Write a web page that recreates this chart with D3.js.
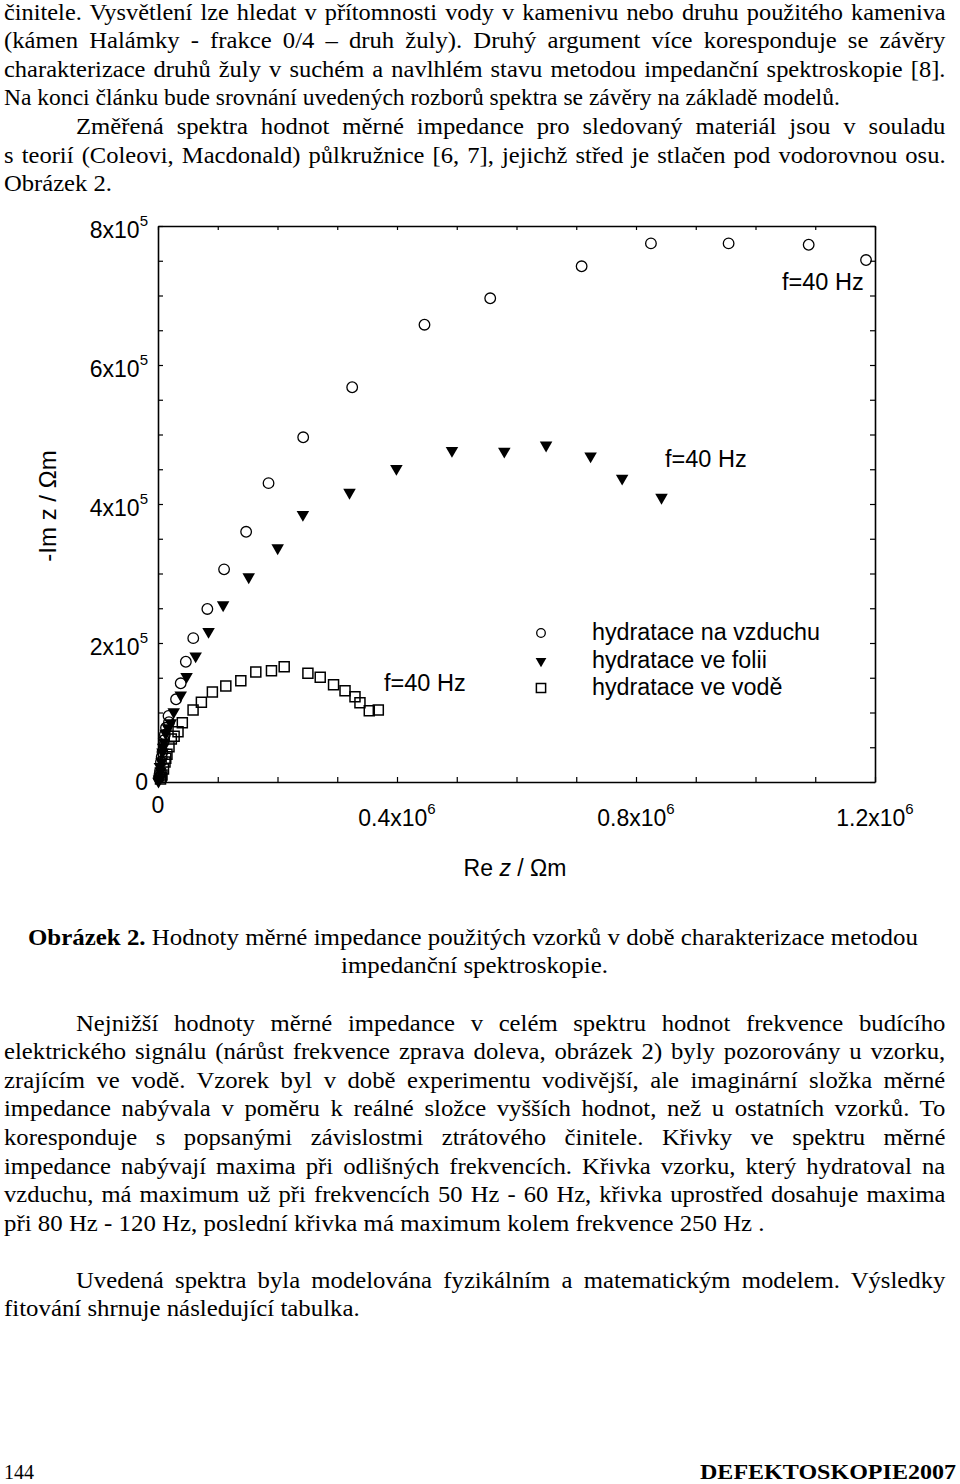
<!DOCTYPE html>
<html><head><meta charset="utf-8">
<script src="https://cdn.jsdelivr.net/npm/d3@7"></script>
<style>body{margin:0;background:#fff}svg{display:block}</style>
</head><body>
<svg id="page" width="960" height="1484"></svg>
<script>
// ---------- data (values in kΩm) ----------
const seriesNames = ["hydratace na vzduchu", "hydratace ve folii", "hydratace ve vodě"];
const airRe  = [1185,1089,955,825,709,556,446,325,243,185,147.5,110.6,82.6,59,46.6,38,30.2,18.4,17.6,13.4,10,7.5,5,3.4,1.7,11.5,6.2,2.5];
const airIm  = [751,773,775,775,742,696,658,568,496,430,360,306,249,207,173,142,119,86,95,78,60,43,29,16,6,68,36,11];
const foilRe = [842.7,776.8,724,649.5,579.6,492,399,320.5,242.5,200.3,151.8,109,84.6,63,47.8,38,26.3,21.3,12.9,10,7.5,5.9,4.2,1.7,16.5,8.6,3.2,0.8];
const foilIm = [409.5,437,469,484.6,475.7,476.8,451,416.7,384.7,336.8,295,254.7,216.5,181.3,151.8,125,101,85,70,57.5,43,28.8,15.8,4.3,78,50,22,1];
const waterRe = [368.7,353.6,338,329.7,313,293.8,271.5,250.9,211.2,189.9,163.7,138.6,113.5,91,72.6,58.7,40.7,33.5,22.3,18.4,15,11.7,9.2,6.7,4.2,27,13,5.3];
const waterIm = [103.6,102.6,114,122.7,131.4,140,150.6,156.4,165.9,160.1,158.3,145.8,138.1,129.5,114.7,103.6,85.3,72.4,61.9,50.8,40,28.8,18.7,10,4.3,66,34,7];
const xTickValues = [0, 0.4e6, 0.8e6, 1.2e6];
const xTickBase = ["0", "0.4x10", "0.8x10", "1.2x10"];
const xTickExp  = ["", "6", "6", "6"];
const yTickValues = [0, 2e5, 4e5, 6e5, 8e5];
const yTickBase = ["0", "2x10", "4x10", "6x10", "8x10"];
const yTickExp  = ["", "5", "5", "5", "5"];
const freqLabels = ["f=40 Hz", "f=40 Hz", "f=40 Hz"];

// ---------- page text: [text, indented, justified, width of unjustified line] ----------
const topLines = [
 ["činitele. Vysvětlení lze hledat v přítomnosti vody v kamenivu nebo druhu použitého kameniva", 0, true],
 ["(kámen Halámky - frakce 0/4 – druh žuly). Druhý argument více koresponduje se závěry", 0, true],
 ["charakterizace druhů žuly v suchém a navlhlém stavu metodou impedanční spektroskopie [8].", 0, true],
 ["Na konci článku bude srovnání uvedených rozborů spektra se závěry na základě modelů.", 0, false, 836],
 ["Změřená spektra hodnot měrné impedance pro sledovaný materiál jsou v souladu", 1, true],
 ["s teorií (Coleovi, Macdonald) půlkružnice [6, 7], jejichž střed je stlačen pod vodorovnou osu.", 0, true],
 ["Obrázek 2.", 0, false, 108]
];
const para2 = [
 ["Nejnižší hodnoty měrné impedance v celém spektru hodnot frekvence budícího", 1, true],
 ["elektrického signálu (nárůst frekvence zprava doleva, obrázek 2) byly pozorovány u vzorku,", 0, true],
 ["zrajícím ve vodě. Vzorek byl v době experimentu vodivější, ale imaginární složka měrné", 0, true],
 ["impedance nabývala v poměru k reálné složce vyšších hodnot, než u ostatních vzorků. To", 0, true],
 ["koresponduje s popsanými závislostmi ztrátového činitele. Křivky ve spektru měrné", 0, true],
 ["impedance nabývají maxima při odlišných frekvencích. Křivka vzorku, který hydratoval na", 0, true],
 ["vzduchu, má maximum už při frekvencích 50 Hz - 60 Hz, křivka uprostřed dosahuje maxima", 0, true],
 ["při 80 Hz - 120 Hz, poslední křivka má maximum kolem frekvence 250 Hz .", 0, false, 761]
];
const para3 = [
 ["Uvedená spektra byla modelována fyzikálním a matematickým modelem. Výsledky", 1, true],
 ["fitování shrnuje následující tabulka.", 0, false, 356]
];

const svg = d3.select("#page");
const serif = "'Liberation Serif','Times New Roman',serif";
const sans = "'Liberation Sans',Arial,sans-serif";
const FS = 23, LH = 28.6, LEFT = 4, RIGHT = 946, INDENT = 72, SX = 1.075;

function block(lines, y0) {
  lines.forEach((l, i) => {
    const x = LEFT + (l[1] ? INDENT : 0);
    const yy = y0 + i * LH;
    const t = svg.append("text").attr("x", 0).attr("y", 0)
      .attr("font-family", serif).attr("font-size", FS).attr("fill", "#000").text(l[0]);
    const w = t.node().getComputedTextLength();
    if (l[2]) {
      const target = RIGHT - x;
      const n = (l[0].match(/ /g) || []).length;
      let s = SX;
      if (w * s > target - n * 2) s = (target - n * 2) / w;
      t.attr("transform", `translate(${x},${yy}) scale(${s},1)`);
      if (n) t.attr("word-spacing", (target / s - w) / n);
    } else {
      const s = l[3] / w;
      t.attr("transform", `translate(${x},${yy}) scale(${s},1)`);
    }
  });
}
block(topLines, 19.5);
block(para2, 1030.5);
block(para3, 1287.5);

// caption (centered)
function centered(cx, yy, parts, target) {
  const t = svg.append("text").attr("x", 0).attr("y", 0).attr("font-family", serif).attr("font-size", FS);
  parts.forEach(p => t.append("tspan").attr("font-weight", p[1] ? "bold" : null).text(p[0]));
  const w = t.node().getComputedTextLength();
  const s = target / w;
  t.attr("transform", `translate(${cx - target / 2},${yy}) scale(${s},1)`);
}
centered(473, 944.5, [["Obrázek 2.", true], [" Hodnoty měrné impedance použitých vzorků v době charakterizace metodou", false]], 890);
centered(474.5, 973, [["impedanční spektroskopie.", false]], 267);

// footer
svg.append("text").attr("x", 4).attr("y", 1479).attr("font-family", serif).attr("font-size", 21)
  .attr("textLength", 30).attr("lengthAdjust", "spacingAndGlyphs").text("144");
svg.append("text").attr("x", 700).attr("y", 1479).attr("font-weight", "bold")
  .attr("font-family", serif).attr("font-size", 21).attr("textLength", 256)
  .attr("lengthAdjust", "spacingAndGlyphs").text("DEFEKTOSKOPIE2007");

// ---------- chart ----------
const x = d3.scaleLinear().domain([0, 1.2e6]).range([158, 875]);
const y = d3.scaleLinear().domain([0, 8e5]).range([782, 226]);
const xMinor = d3.range(0, 1.2e6 + 1, 1e5);
const yMinor = d3.range(0, 8e5 + 1, 5e4);

const ax = svg.append("g").attr("class", "axes");
function styleAxis(g) {
  g.selectAll("path.domain").attr("stroke", "#000").attr("stroke-width", 1.6);
  g.selectAll(".tick line").attr("stroke", "#000").attr("stroke-width", 1.2);
  g.selectAll(".tick text").remove();
}
ax.append("g").attr("transform", `translate(0,${y(0)})`)
  .call(d3.axisBottom(x).tickValues(xMinor).tickSize(-5).tickSizeOuter(0).tickFormat("")).call(styleAxis);
ax.append("g").attr("transform", `translate(0,${y(8e5)})`)
  .call(d3.axisTop(x).tickValues(xMinor).tickSize(-4).tickSizeOuter(0).tickFormat("")).call(styleAxis);
ax.append("g").attr("transform", `translate(${x(0)},0)`)
  .call(d3.axisLeft(y).tickValues(yMinor).tickSize(-5).tickSizeOuter(0).tickFormat("")).call(styleAxis);
ax.append("g").attr("transform", `translate(${x(1.2e6)},0)`)
  .call(d3.axisRight(y).tickValues(yMinor).tickSize(-5).tickSizeOuter(0).tickFormat("")).call(styleAxis);

// tick labels
xTickValues.forEach((v, i) => {
  const t = ax.append("text").attr("x", x(v)).attr("y", v === 0 ? 813 : 826)
    .attr("text-anchor", "middle").attr("font-family", sans).attr("font-size", 23).text(xTickBase[i]);
  if (xTickExp[i]) t.append("tspan").attr("dy", -12).attr("font-size", 15).text(xTickExp[i]);
});
yTickValues.forEach((v, i) => {
  const t = ax.append("text").attr("x", 148).attr("y", y(v) + (v === 0 ? 8 : 12))
    .attr("text-anchor", "end").attr("font-family", sans).attr("font-size", 23).text(yTickBase[i]);
  if (yTickExp[i]) t.append("tspan").attr("dy", -12).attr("font-size", 15).text(yTickExp[i]);
});

// axis titles
svg.append("text").attr("transform", "translate(56,506) rotate(-90)").attr("text-anchor", "middle")
  .attr("font-family", sans).attr("font-size", 24).text("-Im z / Ωm");
const xt = svg.append("text").attr("x", 515).attr("y", 876).attr("text-anchor", "middle")
  .attr("font-family", sans).attr("font-size", 23);
xt.append("tspan").text("Re ");
xt.append("tspan").attr("font-style", "italic").text("z");
xt.append("tspan").text(" / Ωm");

// series
const toPts = (re, im) => re.map((r, i) => ({ re: r * 1000, im: im[i] * 1000 }));
const series = [
  { pts: toPts(airRe, airIm), type: "circle" },
  { pts: toPts(foilRe, foilIm), type: "triangle" },
  { pts: toPts(waterRe, waterIm), type: "square" }
];
function drawMarker(g, type, cx, cy, small) {
  if (type === "circle") {
    g.append("path").attr("d", d3.symbol(d3.symbolCircle, Math.PI * (small ? 18.5 : 28))())
      .attr("transform", `translate(${cx},${cy})`).attr("fill", "none")
      .attr("stroke", "#000").attr("stroke-width", 1.3);
  } else if (type === "triangle") {
    g.append("path").attr("d", d3.symbol(d3.symbolTriangle, small ? 50 : 68)())
      .attr("transform", `translate(${cx},${cy}) rotate(180)`).attr("fill", "#000");
  } else {
    g.append("path").attr("d", d3.symbol(d3.symbolSquare, small ? 85 : 100)())
      .attr("transform", `translate(${cx},${cy})`).attr("fill", "none")
      .attr("stroke", "#000").attr("stroke-width", 1.5);
  }
}
const plot = svg.append("g");
series.forEach(s => {
  const g = plot.append("g");
  s.pts.forEach(p => drawMarker(g, s.type, x(p.re), y(p.im), false));
});

// frequency annotations
const fPos = [[782, 290], [665, 467], [384, 691]];
freqLabels.forEach((f, i) => {
  svg.append("text").attr("x", fPos[i][0]).attr("y", fPos[i][1]).attr("font-family", sans)
    .attr("font-size", 23.5).text(f);
});

// legend
const lg = svg.append("g");
const legY = [633, 661, 688];
["circle", "triangle", "square"].forEach((t, i) => {
  drawMarker(lg, t, 541, legY[i], true);
  lg.append("text").attr("x", 592).attr("y", legY[i] + 7).attr("font-family", sans)
    .attr("font-size", 23.3).text(seriesNames[i]);
});
</script>
</body></html>
